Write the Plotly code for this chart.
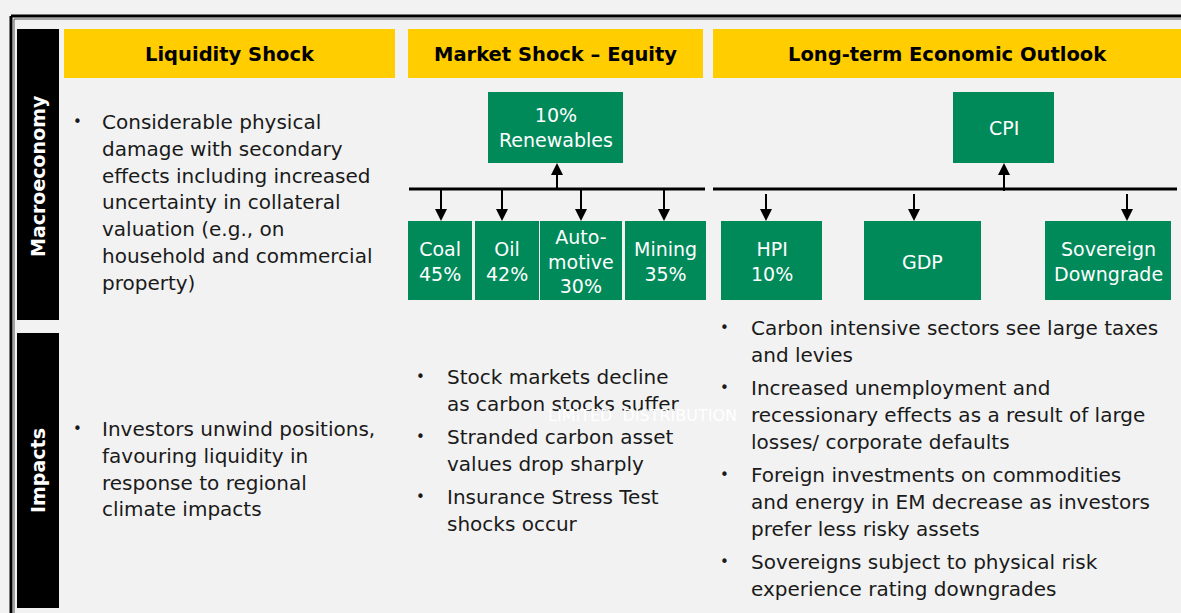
import plotly.graph_objects as go

# ---------------- data (text content) ----------------
headers = ["Liquidity Shock", "Market Shock – Equity", "Long-term Economic Outlook"]
row_labels = ["Macroeconomy", "Impacts"]

equity_up_name = "Renewables"
equity_up_shock = "10%"
equity_sectors = ["Coal", "Oil", "Auto-<br>motive", "Mining"]
equity_shocks = ["45%", "42%", "30%", "35%"]

outlook_up_name = "CPI"
outlook_vars = ["HPI", "GDP", "Sovereign<br>Downgrade"]
outlook_shocks = ["10%", "", ""]

liquidity_macro = [["Considerable physical", "damage with secondary", "effects including increased",
                    "uncertainty in collateral", "valuation (e.g., on",
                    "household and commercial", "property)"]]
liquidity_impacts = [["Investors unwind positions,", "favouring liquidity in",
                      "response to regional", "climate impacts"]]
equity_impacts = [["Stock markets decline", "as carbon stocks suffer"],
                  ["Stranded carbon asset", "values drop sharply"],
                  ["Insurance Stress Test", "shocks occur"]]
outlook_impacts = [["Carbon intensive sectors see large taxes", "and levies"],
                   ["Increased unemployment and", "recessionary effects as a result of large",
                    "losses/ corporate defaults"],
                   ["Foreign investments on commodities", "and energy in EM decrease as investors",
                    "prefer less risky assets"],
                   ["Sovereigns subject to physical risk", "experience rating downgrades"]]
watermark = "LIMITED  DISTRIBUTION"

# ---------------- styles / layout geometry ----------------
BG = "#F2F2F2"
YELLOW = "#FFCD00"
GREEN = "#008A5A"
TXT = "#1A1A1A"
FONT = "DejaVu Sans"
W, H = 1181, 613

header_x = [(64, 395), (408, 703), (713, 1181)]
header_y = (29, 78)
side_y = [(29, 320), (333, 608)]
side_x = (17, 59)

top_box_y = (92, 163)
bot_box_y = (221, 300)
bar_y = 189
eq_bar_x = (409, 705)
ol_bar_x = (713, 1177)
eq_up_box_x = (488, 623)
eq_up_arrow_x = 557
eq_box_x = [(408, 472), (475, 539), (540, 622), (625, 706)]
eq_arrow_x = [441, 502, 581, 664]
ol_up_box_x = (953, 1054)
ol_up_arrow_x = 1004
ol_box_x = [(721, 822), (864, 981), (1045, 1171)]
ol_arrow_x = [766, 914, 1127]

shapes = []
annotations = []


def rect(x0, y0, x1, y1, color):
    shapes.append(dict(type="rect", xref="x", yref="y", x0=x0, x1=x1, y0=y0, y1=y1,
                       fillcolor=color, line=dict(width=0), layer="above"))


def line(x0, y0, x1, y1, width, color="black"):
    shapes.append(dict(type="line", xref="x", yref="y", x0=x0, x1=x1, y0=y0, y1=y1,
                       line=dict(color=color, width=width), layer="above"))


def tri(xc, y_tip, down=True, half=6, length=12):
    yb = y_tip - length if down else y_tip + length
    shapes.append(dict(type="path", xref="x", yref="y",
                       path=f"M {xc-half} {yb} L {xc+half} {yb} L {xc} {y_tip} Z",
                       fillcolor="black", line=dict(width=0), layer="above"))


def text(x, y, s, size=20, color=TXT, anchor="left", bold=False, angle=0, family=FONT):
    annotations.append(dict(x=x, y=y, xref="x", yref="y", text=(f"<b>{s}</b>" if bold else s),
                            showarrow=False, xanchor=anchor, yanchor="middle", textangle=angle,
                            font=dict(family=family, size=size, color=color), align="center"))


# outer frame (double line)
line(11, 16, W, 16, 3)
line(11, 16, 11, H, 3)
line(14, 19, W, 19, 1, "#555555")
line(14, 19, 14, H, 1, "#555555")

# side labels
for (y0, y1), lab in zip(side_y, row_labels):
    rect(side_x[0], y0, side_x[1], y1, "black")
    text((side_x[0] + side_x[1]) / 2, 471 if lab == "Impacts" else 176, lab,
         size=19, color="white", anchor="center", bold=True, angle=-90)

# headers
for (x0, x1), h in zip(header_x, headers):
    rect(x0, header_y[0], x1, header_y[1], YELLOW)
    text((x0 + x1) / 2, (header_y[0] + header_y[1]) / 2 + 1, h, size=19.5, color="black",
         anchor="center", bold=True)

# equity tree
line(eq_bar_x[0], bar_y, eq_bar_x[1], bar_y, 3)
rect(eq_up_box_x[0], top_box_y[0], eq_up_box_x[1], top_box_y[1], GREEN)
text(sum(eq_up_box_x) / 2, sum(top_box_y) / 2, f"{equity_up_shock}<br>{equity_up_name}",
     size=19, color="white", anchor="center")
line(eq_up_arrow_x, bar_y, eq_up_arrow_x, top_box_y[1] + 10, 2)
tri(eq_up_arrow_x, top_box_y[1], down=False)
for (x0, x1), ax, name, shock in zip(eq_box_x, eq_arrow_x, equity_sectors, equity_shocks):
    rect(x0, bot_box_y[0], x1, bot_box_y[1], GREEN)
    text((x0 + x1) / 2, sum(bot_box_y) / 2 + 1, f"{name}<br>{shock}", size=19, color="white",
         anchor="center")
    line(ax, bar_y, ax, bot_box_y[0] - 10, 2)
    tri(ax, bot_box_y[0])

# outlook tree
line(ol_bar_x[0], bar_y, ol_bar_x[1], bar_y, 3)
rect(ol_up_box_x[0], top_box_y[0], ol_up_box_x[1], top_box_y[1], GREEN)
text(sum(ol_up_box_x) / 2, sum(top_box_y) / 2, outlook_up_name, size=19, color="white",
     anchor="center")
line(ol_up_arrow_x, bar_y + 2, ol_up_arrow_x, top_box_y[1] + 10, 2)
tri(ol_up_arrow_x, top_box_y[1], down=False)
for (x0, x1), ax, name, shock in zip(ol_box_x, ol_arrow_x, outlook_vars, outlook_shocks):
    rect(x0, bot_box_y[0], x1, bot_box_y[1], GREEN)
    lab = f"{name}<br>{shock}" if shock else name
    text((x0 + x1) / 2, sum(bot_box_y) / 2 + 1, lab, size=19, color="white", anchor="center")
    line(ax, bar_y + 5, ax, bot_box_y[0] - 10, 2)
    tri(ax, bot_box_y[0])


# bullet lists
def bullets(groups, bx, tx, y0, lh=26.8, gap=6.5):
    y = y0
    for g in groups:
        text(bx, y, "•", size=15)
        for ln in g:
            text(tx, y, ln)
            y += lh
        y += gap


bullets(liquidity_macro, 71, 100, 122)
bullets(liquidity_impacts, 71, 100, 429)
bullets(equity_impacts, 414, 445, 377)
bullets(outlook_impacts, 718, 749, 328)

# watermark
text(642, 415, watermark, size=16, color="white", anchor="center")

fig = go.Figure()
fig.update_layout(
    width=W, height=H, margin=dict(l=0, r=0, t=0, b=0),
    paper_bgcolor=BG, plot_bgcolor=BG,
    xaxis=dict(range=[0, W], visible=False, fixedrange=True),
    yaxis=dict(range=[H, 0], visible=False, fixedrange=True),
    shapes=shapes, annotations=annotations, showlegend=False,
)
fig.write_html("out.html", post_script="document.body.style.margin='0';",
               config={"displayModeBar": False})
